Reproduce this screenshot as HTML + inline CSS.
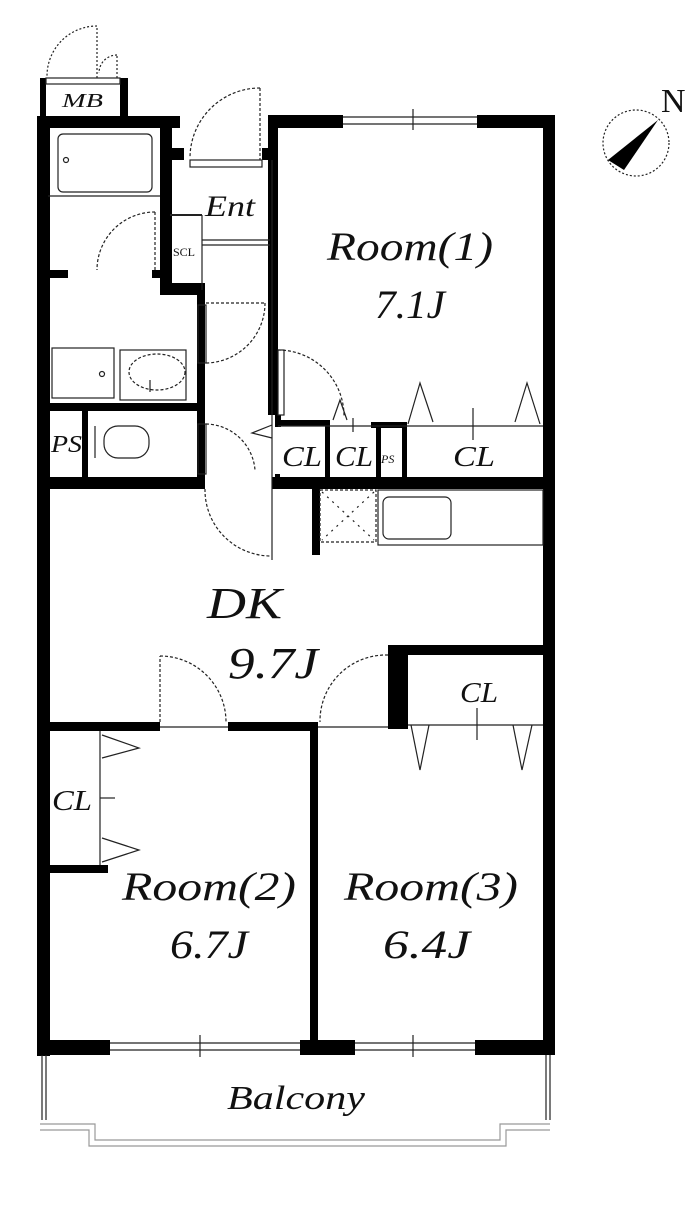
<!DOCTYPE html>
<html><head><meta charset="utf-8"><style>
html,body{margin:0;padding:0;background:#fff}
svg{display:block}
text{font-family:"Liberation Serif",serif;font-style:italic;fill:#111}
</style></head><body>
<svg width="700" height="1209" viewBox="0 0 700 1209" xmlns="http://www.w3.org/2000/svg">
<g fill="#000">
<rect x="40" y="78" width="6" height="40"/><rect x="120" y="78" width="8" height="40"/>
<rect x="38" y="116" width="142" height="12"/>
<rect x="160" y="116" width="12" height="175"/>
<rect x="172" y="148" width="12" height="12"/>
<rect x="160" y="283" width="45" height="12"/>
<rect x="197" y="283" width="8" height="200"/>
<rect x="262" y="148" width="16" height="12"/>
<rect x="268" y="115" width="75" height="13"/>
<rect x="477" y="115" width="78" height="13"/>
<rect x="268" y="115" width="10" height="300"/>
<rect x="543" y="115" width="12" height="940"/>
<rect x="37" y="116" width="13" height="940"/>
<rect x="48" y="270" width="20" height="8"/><rect x="152" y="270" width="12" height="8"/>
<rect x="48" y="403" width="152" height="8"/>
<rect x="82" y="408" width="6" height="72"/>
<rect x="275" y="415" width="6" height="12"/>
<rect x="275" y="420" width="50" height="6"/>
<rect x="325" y="420" width="5" height="60"/>
<rect x="371" y="422" width="36" height="6"/>
<rect x="376" y="422" width="5" height="58"/>
<rect x="402" y="422" width="5" height="58"/>
<rect x="275" y="474" width="5" height="10"/>
<rect x="38" y="477" width="167" height="12"/>
<rect x="272" y="477" width="283" height="12"/>
<rect x="312" y="488" width="8" height="67"/>
<rect x="38" y="722" width="122" height="9"/>
<rect x="228" y="722" width="90" height="9"/>
<rect x="310" y="722" width="8" height="333"/>
<rect x="388" y="645" width="20" height="84"/>
<rect x="388" y="645" width="167" height="10"/>
<rect x="48" y="865" width="60" height="8"/>
<rect x="37" y="1040" width="73" height="15"/>
<rect x="300" y="1040" width="55" height="15"/>
<rect x="475" y="1040" width="80" height="15"/>
</g>
<g fill="none" stroke="#222" stroke-width="1.2">
<rect x="46" y="78" width="74" height="6"/>
<path d="M97 78 V26 M97 26 A50 50 0 0 0 47 76" stroke-dasharray="2,2"/>
<path d="M117 78 V55 M117 55 A18 18 0 0 0 99 73" stroke-dasharray="2,2"/>
<rect x="190" y="160" width="72" height="7"/>
<path d="M260 88 V160 M260 88 A70 70 0 0 0 190 158" stroke-dasharray="3,2"/>
<rect x="58" y="134" width="94" height="58" rx="5"/>
<circle cx="66" cy="160" r="2.5"/>
<line x1="48" y1="196" x2="160" y2="196"/>
<path d="M155 212 V270 M155 212 A58 58 0 0 0 97 270" stroke-dasharray="3,2"/>
<rect x="52" y="348" width="62" height="50"/><circle cx="102" cy="374" r="2.5"/>
<rect x="120" y="350" width="66" height="50"/>
<ellipse cx="157" cy="372" rx="28" ry="18" stroke-dasharray="3,2"/>
<line x1="150" y1="380" x2="150" y2="392"/>
<line x1="170" y1="215" x2="202" y2="215" stroke-width="2"/>
<line x1="202" y1="240" x2="270" y2="240"/><line x1="202" y1="245" x2="270" y2="245"/>
<line x1="202" y1="215" x2="202" y2="290"/>
<rect x="198" y="305" width="8" height="58"/>
<path d="M206 303 H265 M265 303 A60 60 0 0 1 206 363" stroke-dasharray="3,2"/>
<rect x="104" y="426" width="45" height="32" rx="14"/>
<line x1="95" y1="426" x2="95" y2="458"/>
<rect x="198" y="424" width="8" height="50"/>
<path d="M206 424 A50 50 0 0 1 255 470" stroke-dasharray="3,2"/>
<path d="M272 425 L252 433 L272 438"/>
<line x1="272" y1="160" x2="272" y2="560"/>
<line x1="343" y1="117" x2="477" y2="117"/><line x1="343" y1="124" x2="477" y2="124"/>
<line x1="413" y1="109" x2="413" y2="130"/>
<rect x="278" y="350" width="6" height="65"/>
<path d="M278 350 A66 66 0 0 1 344 416" stroke-dasharray="3,2"/>
<line x1="278" y1="426" x2="543" y2="426"/>
<path d="M333 420 L340 400 L347 420"/>
<path d="M408 424 L420 383 L433 422"/><path d="M515 422 L527 383 L540 424"/>
<line x1="473" y1="408" x2="473" y2="440"/>
<line x1="353" y1="418" x2="353" y2="432"/>
<path d="M205 489 A66 66 0 0 0 271 556" stroke-dasharray="3,2"/>
<rect x="320" y="490" width="56" height="52" stroke-dasharray="3,2"/>
<path d="M322 492 L374 540 M374 492 L322 540" stroke-dasharray="2,5"/>
<rect x="378" y="490" width="165" height="55"/>
<rect x="383" y="497" width="68" height="42" rx="6"/>
<path d="M160 722 V656 M160 656 A66 66 0 0 1 226 722" stroke-dasharray="3,2"/>
<line x1="160" y1="727" x2="228" y2="727"/>
<path d="M388 655 A66 66 0 0 0 320 722" stroke-dasharray="3,2"/>
<line x1="318" y1="727" x2="388" y2="727"/>
<line x1="408" y1="725" x2="543" y2="725"/>
<line x1="477" y1="708" x2="477" y2="740"/>
<path d="M411 725 L420 770 L429 725"/><path d="M513 725 L522 770 L532 725"/>
<line x1="100" y1="731" x2="100" y2="865"/>
<path d="M102 735 L139 748 L102 758"/><path d="M102 838 L139 850 L102 862"/>
<line x1="100" y1="798" x2="115" y2="798"/>
<line x1="110" y1="1043" x2="300" y2="1043"/><line x1="110" y1="1050" x2="300" y2="1050"/>
<line x1="200" y1="1035" x2="200" y2="1057"/>
<line x1="355" y1="1043" x2="475" y2="1043"/><line x1="355" y1="1050" x2="475" y2="1050"/>
<line x1="413" y1="1035" x2="413" y2="1057"/>
<path d="M42 1055 V1120 M46 1055 V1120 M546 1055 V1120 M550 1055 V1120"/>
<path d="M40 1124 H95 V1140 H500 V1124 H550" stroke="#999"/>
<path d="M40 1130 H89 V1146 H506 V1130 H550" stroke="#999"/>
<circle cx="636" cy="143" r="33" stroke-dasharray="2,2"/>
</g>
<polygon points="658,120 608,160 624,170" fill="#000"/>
<g>
<text x="62" y="107" font-size="20" textLength="41" lengthAdjust="spacingAndGlyphs">MB</text>
<text x="205" y="216" font-size="30" textLength="50" lengthAdjust="spacingAndGlyphs">Ent</text>
<text x="173" y="256" font-size="12" style="font-style:normal">SCL</text>
<text x="327" y="260" font-size="40" textLength="166" lengthAdjust="spacingAndGlyphs">Room(1)</text>
<text x="375" y="318" font-size="40" textLength="70" lengthAdjust="spacingAndGlyphs">7.1J</text>
<text x="51" y="452" font-size="24" textLength="31" lengthAdjust="spacingAndGlyphs">PS</text>
<text x="282" y="466" font-size="28" textLength="40" lengthAdjust="spacingAndGlyphs">CL</text>
<text x="335" y="466" font-size="28" textLength="38" lengthAdjust="spacingAndGlyphs">CL</text>
<text x="381" y="463" font-size="12">PS</text>
<text x="453" y="466" font-size="28" textLength="42" lengthAdjust="spacingAndGlyphs">CL</text>
<text x="207" y="618" font-size="44" textLength="75" lengthAdjust="spacingAndGlyphs">DK</text>
<text x="228" y="678" font-size="44" textLength="90" lengthAdjust="spacingAndGlyphs">9.7J</text>
<text x="460" y="702" font-size="28" textLength="38" lengthAdjust="spacingAndGlyphs">CL</text>
<text x="52" y="810" font-size="28" textLength="40" lengthAdjust="spacingAndGlyphs">CL</text>
<text x="122" y="900" font-size="40" textLength="174" lengthAdjust="spacingAndGlyphs">Room(2)</text>
<text x="170" y="958" font-size="40" textLength="78" lengthAdjust="spacingAndGlyphs">6.7J</text>
<text x="344" y="900" font-size="40" textLength="174" lengthAdjust="spacingAndGlyphs">Room(3)</text>
<text x="383" y="958" font-size="40" textLength="87" lengthAdjust="spacingAndGlyphs">6.4J</text>
<text x="227" y="1109" font-size="34" textLength="138" lengthAdjust="spacingAndGlyphs">Balcony</text>
<text x="661" y="112" font-size="34" style="font-style:normal">N</text>
</g>
</svg>
</body></html>
